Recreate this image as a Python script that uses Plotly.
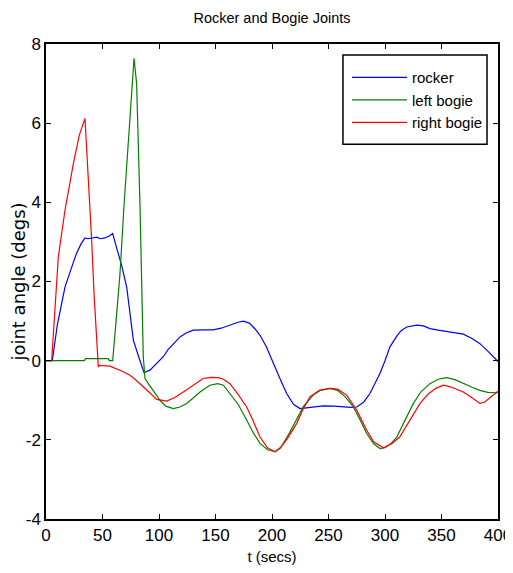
import plotly.graph_objects as go

# ---- data ----
rocker_t = [0, 5.6, 10, 16.8, 22, 27, 31, 34.5, 37, 42, 45, 48, 52, 56, 59, 63, 67, 71.4, 74, 77.3, 82, 86.7,
            92, 98, 103.8, 108, 112.7, 118.6, 124, 130.4, 140, 148, 155, 162.8, 170, 174.6, 180, 185, 189.4,
            195, 201, 207, 213, 219, 224.8, 232, 240, 245.4, 255, 263, 270, 275, 281, 286.7, 291, 295.6, 300,
            304.4, 310, 314, 319.2, 328, 334, 339.8, 347, 354.6, 362, 369.3, 377, 384, 391, 398.8, 400]
rocker_v = [0, 0, 0.9, 1.86, 2.3, 2.71, 2.95, 3.1, 3.08, 3.1, 3.12, 3.08, 3.1, 3.15, 3.21, 2.8, 2.4, 1.86, 1.3,
            0.52, 0.1, -0.30, -0.24, -0.08, 0.10, 0.28, 0.43, 0.60, 0.70, 0.77, 0.78, 0.78, 0.82, 0.90, 0.97, 1.0,
            0.95, 0.8, 0.64, 0.35, -0.07, -0.45, -0.83, -1.1, -1.21, -1.19, -1.16, -1.14, -1.15, -1.17, -1.18,
            -1.17, -1.05, -0.83, -0.6, -0.32, 0.0, 0.35, 0.6, 0.75, 0.85, 0.90, 0.88, 0.81, 0.77, 0.73, 0.71,
            0.67, 0.56, 0.43, 0.24, 0.01, -0.02]

left_t = [0, 34, 35, 55, 56, 59, 62, 65.5, 69, 72.8, 77.9, 80.2, 83.2, 86.1, 87.6, 91, 95, 100.9, 106, 112.7,
          118.6, 124.5, 130, 136.3, 145, 148, 152, 157, 162.8, 170, 177.6, 183, 189.4, 196, 202.7, 208, 215,
          221.8, 228, 236.5, 243, 251.3, 258, 265, 272, 278, 283.8, 290, 295.6, 300, 305, 310.4, 318, 325.1,
          332, 339.8, 347, 354.6, 362, 369.3, 377, 384, 391, 398.8, 400]
left_v = [0, 0.0, 0.05, 0.05, 0.0, 0.0, 1.0, 2.2, 3.9, 5.57, 7.64, 7.0, 3.89, 0.10, -0.45, -0.6, -0.75, -1.0,
          -1.15, -1.21, -1.17, -1.08, -0.95, -0.79, -0.62, -0.60, -0.58, -0.62, -0.83, -1.1, -1.50, -1.8, -2.09,
          -2.25, -2.30, -2.18, -1.85, -1.50, -1.15, -0.87, -0.75, -0.70, -0.75, -0.92, -1.17, -1.5, -1.84, -2.1,
          -2.22, -2.2, -2.1, -1.93, -1.5, -1.08, -0.78, -0.58, -0.47, -0.43, -0.48, -0.58, -0.67, -0.75, -0.8,
          -0.81, -0.8]

right_t = [0, 5, 10.9, 16.8, 20, 24.2, 29.5, 34.5, 40.4, 42.5, 46.3, 47.2, 56.6, 62, 68.4, 74.3, 78.8, 86.1, 92,
           98, 106.8, 114, 121.5, 130, 139, 146, 152.5, 157, 162.8, 170, 177.6, 183, 189.4, 196, 202.7, 207,
           214, 221.8, 227, 233.6, 242, 251.3, 258, 266, 275, 283.8, 290, 298.5, 306, 313, 320, 326, 331, 338,
           345, 351.6, 358, 364, 369.3, 375, 380, 384, 388, 393, 398.8, 400]
right_v = [0, 0, 2.62, 3.80, 4.3, 4.98, 5.70, 6.12, 3.04, 1.70, -0.16, -0.12, -0.14, -0.2, -0.28, -0.37, -0.47,
           -0.66, -0.82, -0.98, -1.02, -0.93, -0.79, -0.62, -0.45, -0.42, -0.43, -0.47, -0.58, -0.85, -1.17, -1.5,
           -1.93, -2.2, -2.30, -2.22, -1.95, -1.59, -1.25, -0.91, -0.75, -0.70, -0.72, -0.87, -1.25, -1.76, -2.05,
           -2.20, -2.1, -1.93, -1.6, -1.3, -1.08, -0.85, -0.7, -0.62, -0.66, -0.73, -0.79, -0.9, -1.0, -1.08,
           -1.05, -0.93, -0.79, -0.77]

x_ticks = [0, 50, 100, 150, 200, 250, 300, 350, 400]
y_ticks = [-4, -2, 0, 2, 4, 6, 8]

SANS = "Liberation Sans, Arial, sans-serif"
WIDE = "DejaVu Sans, Liberation Sans, sans-serif"

fig = go.Figure()
fig.add_trace(go.Scatter(x=rocker_t, y=rocker_v, mode="lines", name="rocker",
                         line=dict(color="#0000ff", width=1.2)))
fig.add_trace(go.Scatter(x=left_t, y=left_v, mode="lines", name="left bogie",
                         line=dict(color="#008000", width=1.2)))
fig.add_trace(go.Scatter(x=right_t, y=right_v, mode="lines", name="right bogie",
                         line=dict(color="#ff0000", width=1.2)))

axis_common = dict(showgrid=False, zeroline=False, showline=True, linecolor="black", linewidth=1.5,
                   mirror="ticks", ticks="inside", ticklen=5, tickwidth=1, tickcolor="black",
                   automargin=False, ticklabeloverflow="allow")

H = 557
fig.update_layout(
    width=505, height=H,
    margin=dict(l=38, r=15, t=36, b=46, autoexpand=False),
    paper_bgcolor="white", plot_bgcolor="white",
    title=dict(text="Rocker and Bogie Joints", x=0.5, xref="paper", xanchor="center",
               y=1 - 10 / H, yref="container", yanchor="middle",
               font=dict(family=SANS, size=14.5, color="black")),
    xaxis=dict(range=[0, 400], tickvals=x_ticks, ticktext=[str(v) for v in x_ticks],
               title=dict(text="t (secs)", font=dict(family=SANS, size=15, color="black"), standoff=7),
               tickfont=dict(family=SANS, size=17, color="black"), **axis_common),
    yaxis=dict(range=[-4, 8], tickvals=y_ticks, ticktext=[str(v) for v in y_ticks],
               title=dict(text="joint angle (degs)", font=dict(family=WIDE, size=18, color="black"), standoff=4),
               tickfont=dict(family=SANS, size=17, color="black"), **axis_common),
    legend=dict(x=0.666, y=0.964, xanchor="left", yanchor="top", bgcolor="rgba(0,0,0,0)",
                borderwidth=0, itemwidth=55,
                font=dict(family=SANS, size=15, color="black"), tracegroupgap=0,
                itemclick=False),
    showlegend=True,
    shapes=[dict(type="rect", xref="paper", yref="paper", x0=0.657, x1=0.9757, y0=0.789, y1=0.977,
                 line=dict(color="black", width=1.5), fillcolor="white", layer="above")],
)

fig.write_html("out.html")
